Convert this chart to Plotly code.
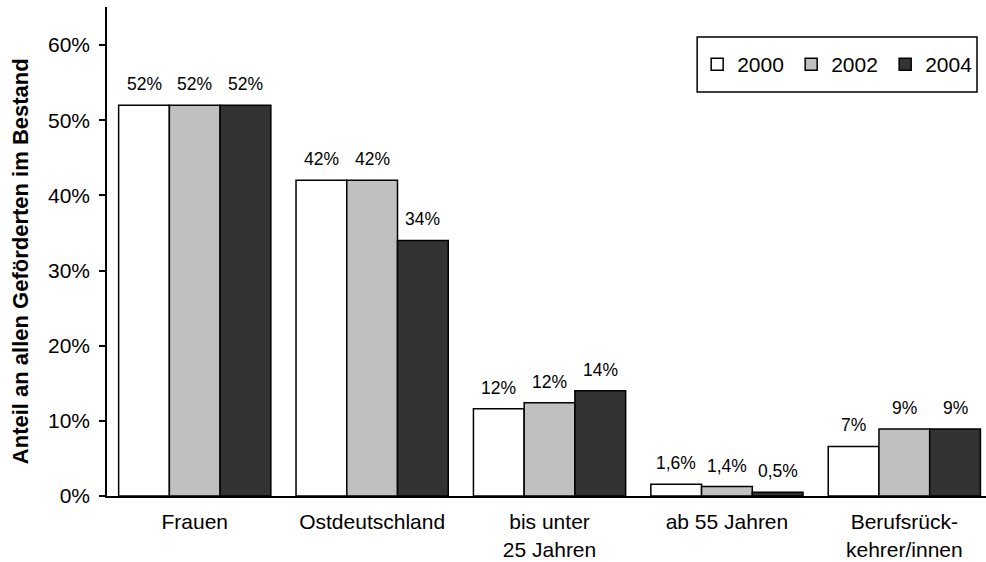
import plotly.graph_objects as go

categories = ["Frauen", "Ostdeutschland", "bis unter 25 Jahren", "ab 55 Jahren", "Berufsrückkehrer/innen"]
tick_labels = ["Frauen", "Ostdeutschland", "bis unter<br>25 Jahren", "ab 55 Jahren", "Berufsrück-<br>kehrer/innen"]
years = ["2000", "2002", "2004"]
values_2000 = [52, 42, 11.6, 1.55, 6.6]
values_2002 = [52, 42, 12.4, 1.25, 8.9]
values_2004 = [52, 34, 14.0, 0.5, 8.9]
labels_2000 = ["52%", "42%", "12%", "1,6%", "7%"]
labels_2002 = ["52%", "42%", "12%", "1,4%", "9%"]
labels_2004 = ["52%", "34%", "14%", "0,5%", "9%"]
colors = ["#ffffff", "#c0c0c0", "#333333"]
y_ticks = [0, 10, 20, 30, 40, 50, 60]
y_tick_text = ["0%", "10%", "20%", "30%", "40%", "50%", "60%"]

series = [values_2000, values_2002, values_2004]
label_sets = [labels_2000, labels_2002, labels_2004]

FONT = "Liberation Sans, Arial, sans-serif"
BARGAP = 0.142
L, R, T, B = 106.5, 0, 7, 66.2
W, H = 986, 562
PW, PH = W - L - R, H - T - B


def px_x(px):
    return (px - L) / PW


def px_y(py):
    return (H - B - py) / PH


fig = go.Figure()
for name, vals, col in zip(years, series, colors):
    fig.add_trace(go.Bar(
        x=categories, y=vals, name=name,
        marker=dict(color=col, line=dict(color="black", width=1.5)),
        hoverinfo="skip",
    ))

annotations = []
bw = (1 - BARGAP) / 3
for si, (vals, labs) in enumerate(zip(series, label_sets)):
    for ci, (v, lab) in enumerate(zip(vals, labs)):
        annotations.append(dict(
            x=ci + (si - 1) * bw, y=v, xref="x", yref="y",
            text=lab, showarrow=False, yshift=21, yanchor="middle",
            font=dict(family=FONT, size=17.5, color="black"),
        ))

annotations.append(dict(
    x=px_x(19.5), y=px_y(261), xref="paper", yref="paper",
    text="<b>Anteil an allen Geförderten im Bestand</b>", textangle=-90,
    showarrow=False, xanchor="center", yanchor="middle",
    font=dict(family=FONT, size=22, color="black"),
))

shapes = [dict(
    type="rect", xref="paper", yref="paper",
    x0=px_x(697), x1=px_x(977), y0=px_y(92), y1=px_y(37),
    line=dict(color="black", width=1.5), fillcolor="rgba(0,0,0,0)",
)]

fig.update_layout(
    width=W, height=H,
    margin=dict(l=L, r=R, t=T, b=B, autoexpand=False),
    paper_bgcolor="white", plot_bgcolor="white",
    barmode="group", bargap=BARGAP, bargroupgap=0,
    font=dict(family=FONT, color="black"),
    annotations=annotations,
    shapes=shapes,
    showlegend=True,
    hovermode=False,
    legend=dict(
        orientation="h", x=px_x(697), y=px_y(64.5), xanchor="left", yanchor="middle",
        borderwidth=0, bgcolor="rgba(0,0,0,0)",
        font=dict(family=FONT, size=21, color="black"),
        entrywidth=49, entrywidthmode="pixels", traceorder="normal",
    ),
    xaxis=dict(
        type="category", range=[-0.4946, 4.4604], automargin=False,
        tickmode="array", tickvals=categories, ticktext=tick_labels,
        showline=True, linecolor="black", linewidth=2,
        ticks="", showgrid=False, zeroline=False, ticklabelstandoff=6,
        tickfont=dict(family=FONT, size=21, color="black"),
    ),
    yaxis=dict(
        range=[0, 65.06], automargin=False,
        tickmode="array", tickvals=y_ticks, ticktext=y_tick_text,
        showline=True, linecolor="black", linewidth=1.5,
        ticks="outside", ticklen=6, tickwidth=1.5, tickcolor="black",
        showgrid=False, zeroline=False, ticklabelstandoff=5,
        tickfont=dict(family=FONT, size=21, color="black"),
    ),
)

fig.write_html(
    "out.html",
    config={"displayModeBar": False},
    post_script="document.body.style.margin='0';document.body.style.padding='0';",
)
